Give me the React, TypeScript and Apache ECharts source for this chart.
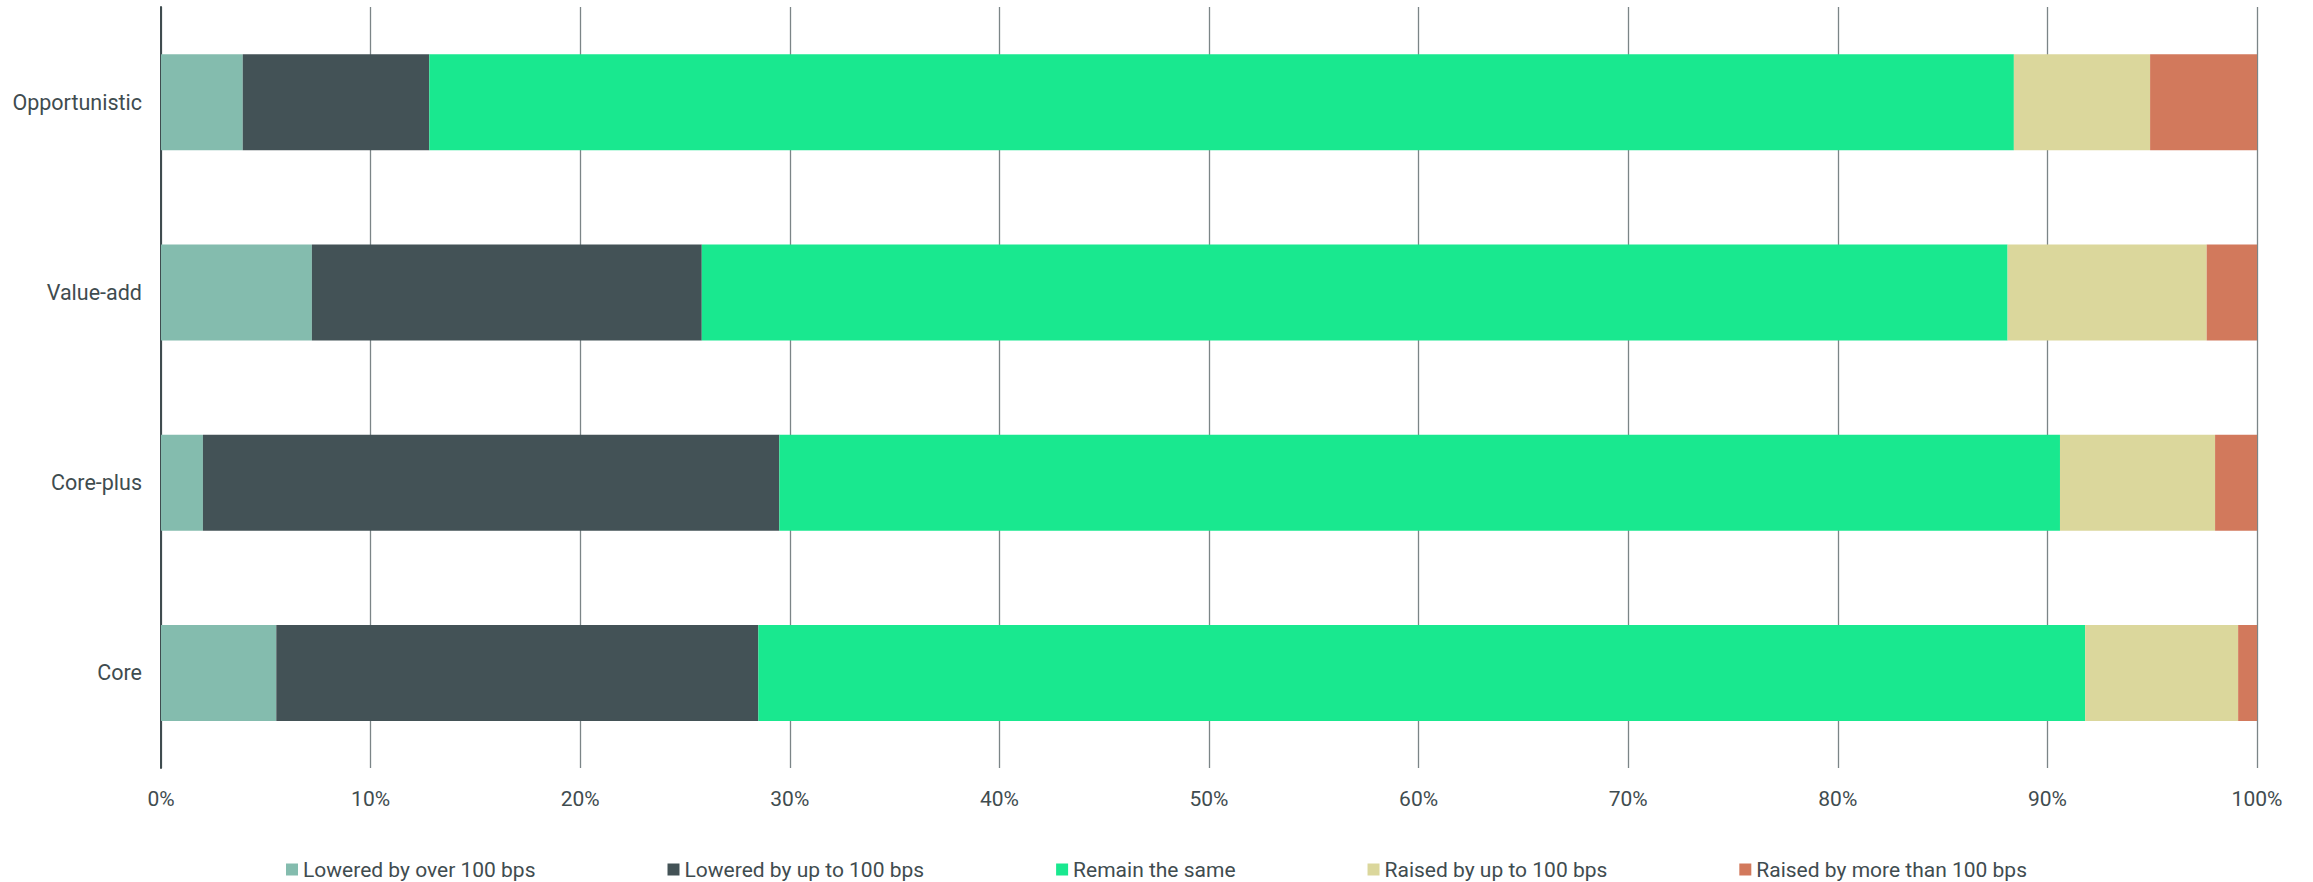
import React, { useEffect, useRef } from "react";
import * as echarts from "echarts";

const categories = ["Core", "Core-plus", "Value-add", "Opportunistic"];
const seriesNames = [
  "Lowered by over 100 bps",
  "Lowered by up to 100 bps",
  "Remain the same",
  "Raised by up to 100 bps",
  "Raised by more than 100 bps",
];
const loweredOver100 = [5.5, 2.0, 7.2, 3.9];
const loweredUpTo100 = [23.0, 27.5, 18.6, 8.9];
const remainSame = [63.3, 61.1, 62.3, 75.6];
const raisedUpTo100 = [7.3, 7.4, 9.5, 6.5];
const raisedOver100 = [0.9, 2.0, 2.4, 5.1];
const colors = ["#84bcae", "#435256", "#19e88f", "#dbd79c", "#d2795c"];

export default function App() {
  const ref = useRef<HTMLDivElement>(null);
  useEffect(() => {
    if (!ref.current) return;
    const chart = echarts.init(ref.current, null, { renderer: "svg" });
    const values = [loweredOver100, loweredUpTo100, remainSame, raisedUpTo100, raisedOver100];
    const textColor = "#3f4c4f";
    const font = "Roboto, 'Noto Sans', sans-serif";
    chart.setOption({
      animation: false,
      textStyle: { fontFamily: font },
      grid: { left: 161, right: 56, top: 7, bottom: 114 },
      legend: {
        left: "center",
        top: 854,
        icon: "rect",
        itemWidth: 12,
        itemHeight: 12,
        itemGap: 132,
        textStyle: { fontSize: 21, color: textColor, fontFamily: font },
        data: seriesNames,
      },
      xAxis: {
        type: "value",
        min: 0,
        max: 100,
        interval: 10,
        axisLine: { show: false },
        axisTick: { show: false },
        axisLabel: {
          formatter: "{value}%",
          fontSize: 21,
          color: textColor,
          margin: 20,
          fontFamily: font,
        },
        splitLine: { show: true, lineStyle: { color: "#7b8587", width: 1.3 } },
      },
      yAxis: {
        type: "category",
        data: categories,
        axisLine: { show: true, lineStyle: { color: "#3f4c4f", width: 2 } },
        axisTick: { show: false },
        axisLabel: { fontSize: 21.5, color: textColor, margin: 19, fontFamily: font },
      },
      series: seriesNames.map((name, i) => ({
        name,
        type: "bar",
        stack: "total",
        barWidth: 96,
        itemStyle: { color: colors[i] },
        data: values[i],
      })),
    });
    return () => chart.dispose();
  }, []);
  return (
    <div
      ref={ref}
      style={{ position: "fixed", left: 0, top: 0, width: 2313, height: 882, background: "#ffffff" }}
    />
  );
}
